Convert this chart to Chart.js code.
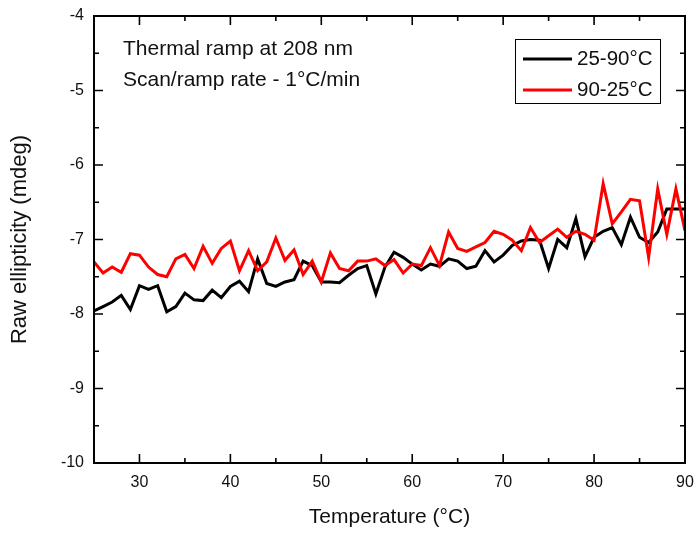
<!DOCTYPE html>
<html>
<head>
<meta charset="utf-8">
<script src="https://cdn.jsdelivr.net/npm/chart.js@4/dist/chart.umd.min.js"></script>
<style>
  html, body { margin: 0; padding: 0; background: #fff; }
  #wrap { width: 697px; height: 534px; position: relative; }
</style>
</head>
<body>
<div id="wrap"><canvas id="c" width="697" height="534"></canvas></div>
<script>
// ---- data ----
const temperatures = [25,26,27,28,29,30,31,32,33,34,35,36,37,38,39,40,41,42,43,44,45,46,47,48,49,50,51,52,53,54,55,56,57,58,59,60,61,62,63,64,65,66,67,68,69,70,71,72,73,74,75,76,77,78,79,80,81,82,83,84,85,86,87,88,89,90];
const heating = [-7.96,-7.90,-7.84,-7.75,-7.94,-7.62,-7.67,-7.62,-7.97,-7.90,-7.72,-7.81,-7.82,-7.68,-7.78,-7.63,-7.56,-7.70,-7.26,-7.59,-7.63,-7.57,-7.54,-7.29,-7.35,-7.57,-7.57,-7.58,-7.48,-7.39,-7.35,-7.73,-7.37,-7.17,-7.24,-7.33,-7.41,-7.33,-7.36,-7.26,-7.29,-7.39,-7.36,-7.15,-7.30,-7.21,-7.08,-7.02,-7.00,-7.01,-7.39,-7.00,-7.11,-6.72,-7.23,-6.97,-6.89,-6.84,-7.07,-6.70,-6.97,-7.04,-6.90,-6.59,-6.59,-6.59];
const cooling = [-7.30,-7.45,-7.37,-7.44,-7.19,-7.21,-7.37,-7.47,-7.50,-7.26,-7.20,-7.39,-7.09,-7.32,-7.12,-7.02,-7.42,-7.15,-7.42,-7.30,-6.98,-7.28,-7.14,-7.47,-7.29,-7.57,-7.18,-7.39,-7.42,-7.29,-7.29,-7.26,-7.35,-7.27,-7.45,-7.33,-7.35,-7.11,-7.35,-6.90,-7.12,-7.16,-7.10,-7.04,-6.89,-6.93,-7.01,-7.15,-6.84,-7.04,-6.95,-6.86,-6.97,-6.89,-6.93,-7.01,-6.25,-6.79,-6.63,-6.46,-6.48,-7.24,-6.32,-6.93,-6.32,-6.88];
const seriesLabels = ['25-90°C', '90-25°C'];
const xTicks = [30,40,50,60,70,80,90];
const xMinorTicks = [25,35,45,55,65,75,85];
const yTicks = [-10,-9,-8,-7,-6,-5,-4];
const yMinorTicks = [-9.5,-8.5,-7.5,-6.5,-5.5,-4.5];
const annotationLines = ['Thermal ramp at 208 nm', 'Scan/ramp rate - 1°C/min'];
const xTitle = 'Temperature (°C)';
const yTitle = 'Raw ellipticity (mdeg)';

const FONT = '"Liberation Sans", Arial, sans-serif';

const framePlugin = {
  id: 'frame',
  afterDatasetsDraw(chart) {
    const {ctx, chartArea: a, scales: {x, y}} = chart;
    ctx.save();
    ctx.strokeStyle = '#000';
    ctx.lineWidth = 1.6;
    ctx.beginPath();
    const major = 9, minor = 5;
    xTicks.forEach(v => {
      const px = x.getPixelForValue(v);
      ctx.moveTo(px, a.bottom); ctx.lineTo(px, a.bottom - major);
      ctx.moveTo(px, a.top); ctx.lineTo(px, a.top + major);
    });
    xMinorTicks.forEach(v => {
      const px = x.getPixelForValue(v);
      ctx.moveTo(px, a.bottom); ctx.lineTo(px, a.bottom - minor);
      ctx.moveTo(px, a.top); ctx.lineTo(px, a.top + minor);
    });
    yTicks.forEach(v => {
      const py = y.getPixelForValue(v);
      ctx.moveTo(a.left, py); ctx.lineTo(a.left + major, py);
      ctx.moveTo(a.right, py); ctx.lineTo(a.right - major, py);
    });
    yMinorTicks.forEach(v => {
      const py = y.getPixelForValue(v);
      ctx.moveTo(a.left, py); ctx.lineTo(a.left + minor, py);
      ctx.moveTo(a.right, py); ctx.lineTo(a.right - minor, py);
    });
    ctx.stroke();
    ctx.lineWidth = 2;
    ctx.strokeRect(a.left, a.top, a.right - a.left, a.bottom - a.top);

    // annotation text
    ctx.fillStyle = '#111';
    ctx.font = '21px ' + FONT;
    ctx.textAlign = 'left';
    ctx.textBaseline = 'alphabetic';
    annotationLines.forEach((t, i) => ctx.fillText(t, a.left + 29, a.top + 39 + i * 31));

    // legend
    const lx = 515, ly = 39, lw = 145, lh = 64;
    ctx.fillStyle = '#fff';
    ctx.fillRect(lx, ly, lw, lh);
    ctx.lineWidth = 1;
    ctx.strokeStyle = '#000';
    ctx.strokeRect(lx + 0.5, ly + 0.5, lw, lh);
    ctx.font = '20.5px ' + FONT;
    chart.data.datasets.forEach((ds, i) => {
      const cy = ly + 20 + i * 31;
      ctx.strokeStyle = ds.borderColor;
      ctx.lineWidth = 3;
      ctx.beginPath();
      ctx.moveTo(lx + 8, cy); ctx.lineTo(lx + 57, cy);
      ctx.stroke();
      ctx.fillStyle = '#111';
      ctx.textBaseline = 'middle';
      ctx.fillText(ds.label, lx + 62, cy);
    });
    ctx.restore();
  }
};

new Chart(document.getElementById('c'), {
  type: 'line',
  data: {
    datasets: [
      { label: seriesLabels[0], data: temperatures.map((t, i) => ({x: t, y: heating[i]})),
        borderColor: '#000', borderWidth: 3, pointRadius: 0, tension: 0, order: 1 },
      { label: seriesLabels[1], data: temperatures.map((t, i) => ({x: t, y: cooling[i]})),
        borderColor: '#ff0000', borderWidth: 3, pointRadius: 0, tension: 0, order: 0 }
    ]
  },
  options: {
    responsive: false,
    animation: false,
    devicePixelRatio: 1,
    layout: { padding: { left: 0, right: 12, top: 16, bottom: 0 } },
    plugins: { legend: { display: false }, tooltip: { enabled: false } },
    scales: {
      x: {
        type: 'linear', min: 25, max: 90,
        afterBuildTicks: s => { s.ticks = xTicks.map(v => ({value: v})); },
        afterFit: s => { s.height = 71; s.paddingLeft = 0; s.paddingRight = 0; },
        grid: { display: false, drawTicks: false },
        border: { display: false },
        ticks: { padding: 10, color: '#111', font: { family: FONT, size: 16 }, maxRotation: 0 },
        title: { display: true, text: xTitle, color: '#111', font: { family: FONT, size: 21 }, padding: { top: 0, bottom: 4 } }
      },
      y: {
        type: 'linear', min: -10, max: -4,
        afterBuildTicks: s => { s.ticks = yTicks.map(v => ({value: v})); },
        afterFit: s => { s.width = 94; s.paddingTop = 0; s.paddingBottom = 0; },
        grid: { display: false, drawTicks: false },
        border: { display: false },
        ticks: { padding: 10, color: '#111', font: { family: FONT, size: 16 } },
        title: { display: true, text: yTitle, color: '#111', font: { family: FONT, size: 22 }, padding: { top: 7, bottom: 0 } }
      }
    }
  },
  plugins: [framePlugin]
});
</script>
</body>
</html>
